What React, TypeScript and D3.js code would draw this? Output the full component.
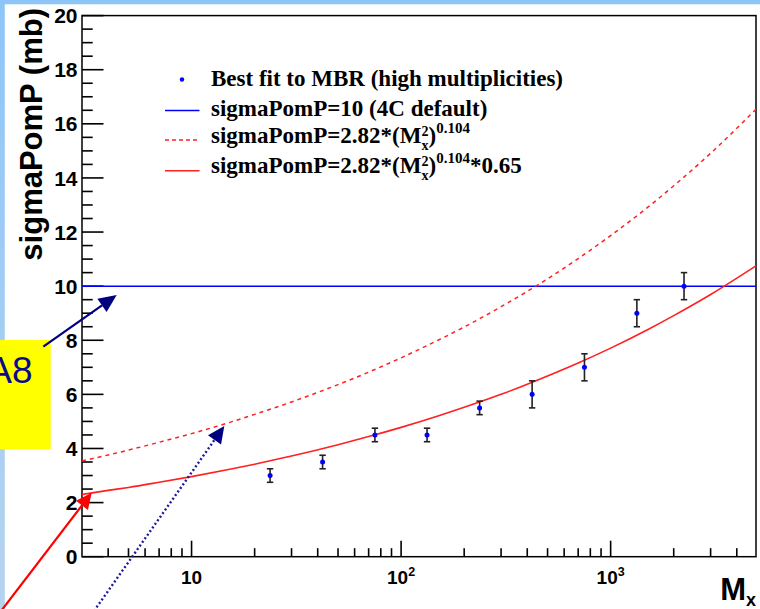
import React from "react";
import * as d3 from "d3";

// ---- data ----
const pointMx = [23.7, 42.2, 75, 133, 237, 422, 750, 1334, 2240];
const pointSigma = [3.0, 3.5, 4.5, 4.5, 5.5, 6.0, 7.0, 9.0, 10.0];
const pointErr = [0.25, 0.25, 0.25, 0.25, 0.25, 0.5, 0.5, 0.5, 0.5];

const curveMx = [3, 4, 5, 7, 10, 15, 20, 30, 50, 70, 100, 150, 200, 300, 500, 700, 1000, 1500, 2000, 3000, 4940];
const dashedSigma = [3.54, 3.76, 3.94, 4.23, 4.55, 4.95, 5.26, 5.72, 6.36, 6.82, 7.35, 8.0, 8.49, 9.24, 10.27, 11.02, 11.87, 12.91, 13.71, 14.91, 16.54];
const solidSigma = [2.3, 2.45, 2.56, 2.75, 2.96, 3.22, 3.42, 3.72, 4.14, 4.44, 4.78, 5.2, 5.52, 6.0, 6.68, 7.16, 7.71, 8.39, 8.91, 9.69, 10.75];
const defaultSigma = 10;

const xMajorTicks = [10, 100, 1000];
const xMajorExp = ["", "2", "3"];
const yMajorTicks = [0, 2, 4, 6, 8, 10, 12, 14, 16, 18, 20];

const W = 760, H = 609;
const X0 = 82, X1 = 756, Y0 = 556.7, Y1 = 15.6;

function arrowHead(tail: [number, number], tip: [number, number], L: number, Wd: number) {
  const dx = tip[0] - tail[0], dy = tip[1] - tail[1];
  const len = Math.hypot(dx, dy);
  const ux = dx / len, uy = dy / len;
  const bx = tip[0] - ux * L, by = tip[1] - uy * L;
  const px = -uy, py = ux;
  return {
    poly: `${tip[0]},${tip[1]} ${bx + px * Wd},${by + py * Wd} ${bx - px * Wd},${by - py * Wd}`,
    base: [bx, by] as [number, number],
  };
}

export default function App() {
  const x = d3.scaleLog().domain([3, 4940]).range([X0, X1]);
  const y = d3.scaleLinear().domain([0, 20]).range([Y0, Y1]);
  const minorX = x.ticks().filter((t) => t > 3 && !xMajorTicks.includes(t));
  const minorY = d3.range(0, 20.001, 0.5).filter((t) => !yMajorTicks.includes(t));

  const line = d3
    .line<number>()
    .x((d, i) => x(curveMx[i]))
    .curve(d3.curveMonotoneX);
  const dashedPath = line.y((d) => y(d))(dashedSigma) || "";
  const solidPath = line.y((d) => y(d))(solidSigma) || "";

  const navy = "#000080";
  const a1 = arrowHead([43.3, 346.7], [116.7, 295], 18, 8);
  const a2 = arrowHead([94, 611], [224.3, 426], 17, 8);
  const a3 = arrowHead([-2, 615], [91.7, 492.7], 16, 7.5);

  const sans = "'Liberation Sans', Arial, sans-serif";
  const serif = "'Liberation Serif', 'Times New Roman', serif";

  return (
    <svg width={W} height={H} style={{ position: "absolute", left: 0, top: 0 }}>
      <defs>
        <linearGradient id="lb" x1="0" y1="0" x2="0" y2="1">
          <stop offset="0" stopColor="#8ec5f9" />
          <stop offset="1" stopColor="#b6d4ef" />
        </linearGradient>
      </defs>
      <rect x={0} y={0} width={W} height={H} fill="#fff" />
      <rect x={0} y={0} width={W} height={4.3} fill="#8ec5f9" />
      <rect x={0} y={0} width={4.8} height={H} fill="url(#lb)" />

      {/* frame */}
      <rect x={X0} y={Y1} width={X1 - X0} height={Y0 - Y1} fill="#fff" stroke="#000" strokeWidth={1.5} />

      {/* y ticks */}
      {yMajorTicks.map((t) => (
        <line key={"ym" + t} x1={X0} x2={X0 + 21.5} y1={y(t)} y2={y(t)} stroke="#000" strokeWidth={1.6} />
      ))}
      {minorY.map((t) => (
        <line key={"yn" + t} x1={X0} x2={X0 + 10.7} y1={y(t)} y2={y(t)} stroke="#000" strokeWidth={1.6} />
      ))}
      {yMajorTicks.map((t) => (
        <text key={"yl" + t} x={77.5} y={y(t) + 7.6} textAnchor="end" fontFamily={sans} fontWeight="bold" fontSize={21}>
          {t}
        </text>
      ))}

      {/* x ticks */}
      {xMajorTicks.map((t) => (
        <line key={"xm" + t} x1={x(t)} x2={x(t)} y1={Y0} y2={Y0 - 16} stroke="#000" strokeWidth={1.6} />
      ))}
      {minorX.map((t) => (
        <line key={"xn" + t} x1={x(t)} x2={x(t)} y1={Y0} y2={Y0 - 8.5} stroke="#000" strokeWidth={1.6} />
      ))}
      {xMajorTicks.map((t, i) => (
        <text key={"xl" + t} x={x(t)} y={583.5} textAnchor="middle" fontFamily={sans} fontWeight="bold" fontSize={19}>
          10
          {xMajorExp[i] ? (
            <tspan fontSize={12.5} dy={-7.5}>
              {xMajorExp[i]}
            </tspan>
          ) : null}
        </text>
      ))}

      {/* axis titles */}
      <text
        transform="translate(42,8) rotate(-90)"
        textAnchor="end"
        fontFamily={sans}
        fontWeight="bold"
        fontSize={31}
      >
        sigmaPomP (mb)
      </text>
      <text x={756} y={600} textAnchor="end" fontFamily={sans} fontWeight="bold" fontSize={31}>
        M
        <tspan fontSize={18} dy={6.2}>
          x
        </tspan>
      </text>

      {/* curves */}
      <line x1={X0} x2={X1} y1={y(defaultSigma)} y2={y(defaultSigma)} stroke="#0000ff" strokeWidth={1.5} />
      <path d={dashedPath} fill="none" stroke="#ff2020" strokeWidth={1.5} strokeDasharray="4 4" />
      <path d={solidPath} fill="none" stroke="#ff2020" strokeWidth={1.6} />

      {/* data points */}
      {pointMx.map((m, i) => {
        const cx = x(m);
        const ylo = y(pointSigma[i] - pointErr[i]);
        const yhi = y(pointSigma[i] + pointErr[i]);
        return (
          <g key={"p" + i}>
            <line x1={cx} x2={cx} y1={ylo} y2={yhi} stroke="#222" strokeWidth={1.6} />
            <line x1={cx - 3.2} x2={cx + 3.2} y1={ylo} y2={ylo} stroke="#222" strokeWidth={1.6} />
            <line x1={cx - 3.2} x2={cx + 3.2} y1={yhi} y2={yhi} stroke="#222" strokeWidth={1.6} />
            <circle cx={cx} cy={y(pointSigma[i])} r={2.5} fill="#0000ff" />
          </g>
        );
      })}

      {/* legend */}
      <circle cx={182} cy={79.5} r={2.2} fill="#0000ff" />
      <text x={211} y={86} fontFamily={serif} fontWeight="bold" fontSize={23}>
        Best fit to MBR (high multiplicities)
      </text>
      <line x1={165} x2={199.5} y1={110.5} y2={110.5} stroke="#0000ff" strokeWidth={1.5} />
      <text x={211} y={116} fontFamily={serif} fontWeight="bold" fontSize={23}>
        sigmaPomP=10 (4C default)
      </text>
      <line x1={165} x2={199.5} y1={140} y2={140} stroke="#ff2020" strokeWidth={1.5} strokeDasharray="4 3" />
      <text x={211} y={142.5} fontFamily={serif} fontWeight="bold" fontSize={23}>
        sigmaPomP=2.82*(M
        <tspan fontSize={14} dy={-7}>2</tspan>
        <tspan fontSize={14} dx={-7} dy={14}>x</tspan>
        <tspan dy={-7}>)</tspan>
        <tspan fontSize={15} dy={-10}>0.104</tspan>
      </text>
      <line x1={165} x2={199.5} y1={170.7} y2={170.7} stroke="#ff2020" strokeWidth={1.6} />
      <text x={211} y={173} fontFamily={serif} fontWeight="bold" fontSize={23}>
        sigmaPomP=2.82*(M
        <tspan fontSize={14} dy={-7}>2</tspan>
        <tspan fontSize={14} dx={-7} dy={14}>x</tspan>
        <tspan dy={-7}>)</tspan>
        <tspan fontSize={15} dy={-10}>0.104</tspan>
        <tspan dy={10}>*0.65</tspan>
      </text>

      {/* annotation box */}
      <rect x={0} y={340} width={50.7} height={109.3} fill="#ffff00" />
      <text x={-12.7} y={383.3} fontFamily={sans} fontSize={37} fill="#0a0a8a">
        A8
      </text>

      {/* arrows */}
      <line x1={43.3} y1={346.7} x2={a1.base[0]} y2={a1.base[1]} stroke={navy} strokeWidth={2.2} />
      <polygon points={a1.poly} fill={navy} />
      <line x1={94} y1={611} x2={a2.base[0]} y2={a2.base[1]} stroke="#1a1a9a" strokeWidth={2.4} strokeDasharray="2 2.4" />
      <polygon points={a2.poly} fill={navy} />
      <line x1={-2} y1={615} x2={a3.base[0]} y2={a3.base[1]} stroke="#ff0000" strokeWidth={2.2} />
      <polygon points={a3.poly} fill="#ff0000" />
    </svg>
  );
}
